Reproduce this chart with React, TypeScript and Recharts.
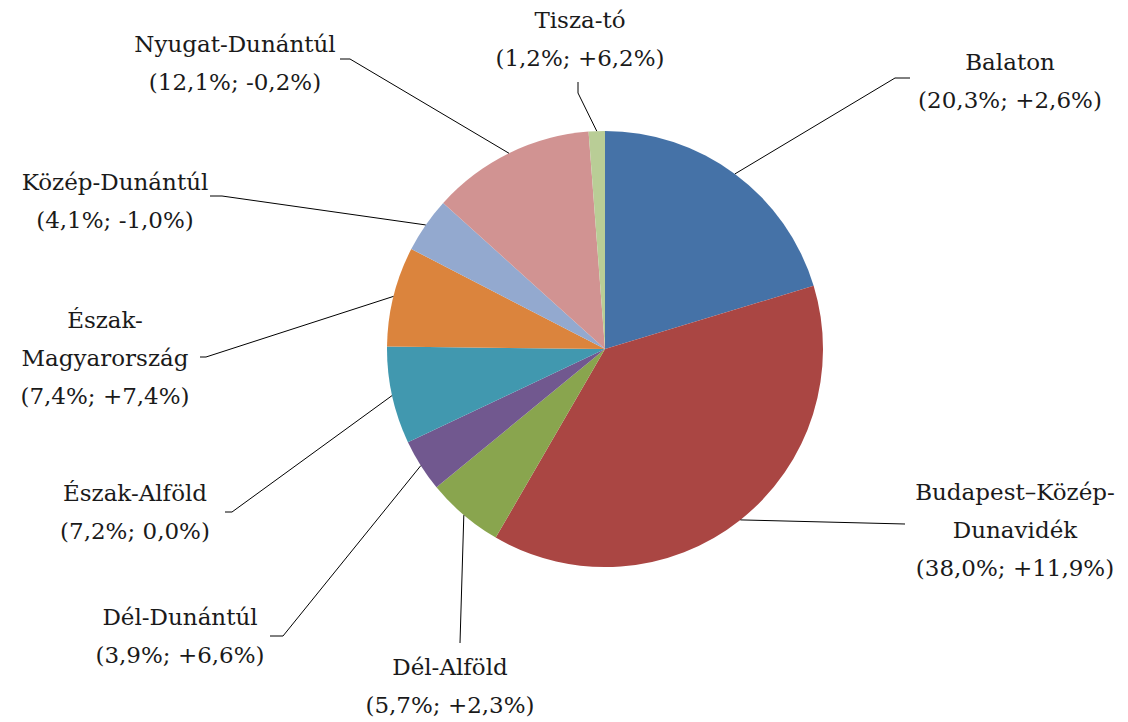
import React from "react";
import { Cell, Pie, PieChart } from "recharts";

// regions clockwise from 12 o'clock
const regions = [
  "Balaton",
  "Budapest–Közép-Dunavidék",
  "Dél-Alföld",
  "Dél-Dunántúl",
  "Észak-Alföld",
  "Észak-Magyarország",
  "Közép-Dunántúl",
  "Nyugat-Dunántúl",
  "Tisza-tó",
];
const nameLines = [
  ["Balaton"],
  ["Budapest–Közép-", "Dunavidék"],
  ["Dél-Alföld"],
  ["Dél-Dunántúl"],
  ["Észak-Alföld"],
  ["Észak-", "Magyarország"],
  ["Közép-Dunántúl"],
  ["Nyugat-Dunántúl"],
  ["Tisza-tó"],
];
const shares = [20.3, 38.0, 5.7, 3.9, 7.2, 7.4, 4.1, 12.1, 1.2];
const changes = [2.6, 11.9, 2.3, 6.6, 0.0, 7.4, -1.0, -0.2, 6.2];

const colors = [
  "#4572A7",
  "#AA4643",
  "#89A54E",
  "#71588F",
  "#4198AF",
  "#DB843D",
  "#93A9CF",
  "#D19392",
  "#B9CD96",
];

// label placement: text centre x, first line y, leader knee and end
const labelPos = [
  { tx: 1010, ty: 62, knee: [895, 78], end: [910, 78] },
  { tx: 1015, ty: 492, knee: [905, 524], end: [905, 524] },
  { tx: 450, ty: 667, knee: [460, 643], end: [460, 643] },
  { tx: 180, ty: 617, knee: [283, 636], end: [270, 636] },
  { tx: 135, ty: 493, knee: [232, 512], end: [225, 512] },
  { tx: 105, ty: 320, knee: [206, 357], end: [200, 357] },
  { tx: 115, ty: 182, knee: [222, 196], end: [210, 196] },
  { tx: 235, ty: 44, knee: [350, 59], end: [340, 59] },
  { tx: 580, ty: 20, knee: [578, 93], end: [578, 82] },
];

const data = regions.map((name, i) => ({ name, value: shares[i] }));

const fmt = (v: number) => v.toFixed(1).replace(".", ",") + "%";
const fmtChange = (v: number) => (v > 0 ? "+" : "") + fmt(v);

const RADIAN = Math.PI / 180;
const LINE_H = 38;
const FONT = "'DejaVu Serif', serif";

const renderLabel = (props: any) => {
  const { cx, cy, midAngle, outerRadius, index } = props;
  const pos = labelPos[index];
  const sx = cx + outerRadius * Math.cos(-midAngle * RADIAN);
  const sy = cy + outerRadius * Math.sin(-midAngle * RADIAN);
  const lines = [...nameLines[index], `(${fmt(shares[index])}; ${fmtChange(changes[index])})`];
  return (
    <g key={`lbl-${index}`}>
      <polyline
        points={`${sx},${sy} ${pos.knee[0]},${pos.knee[1]} ${pos.end[0]},${pos.end[1]}`}
        fill="none"
        stroke="#000"
        strokeWidth={1}
      />
      {lines.map((l, j) => (
        <text
          key={j}
          x={pos.tx}
          y={pos.ty + j * LINE_H}
          textAnchor="middle"
          dominantBaseline="central"
          style={{ fontFamily: FONT, fontSize: 23, fill: "#1a1a1a" }}
        >
          {l}
        </text>
      ))}
    </g>
  );
};

export default function App() {
  return (
    <div style={{ position: "absolute", left: 0, top: 0, background: "#fff" }}>
      <PieChart width={1128} height={722} margin={{ top: 0, right: 0, bottom: 0, left: 0 }}>
        <Pie
          data={data}
          dataKey="value"
          nameKey="name"
          cx={605}
          cy={349}
          outerRadius={218}
          startAngle={90}
          endAngle={-270}
          stroke="none"
          label={renderLabel}
          labelLine={false}
          isAnimationActive={false}
        >
          {data.map((d, i) => (
            <Cell key={d.name} fill={colors[i]} />
          ))}
        </Pie>
      </PieChart>
    </div>
  );
}
